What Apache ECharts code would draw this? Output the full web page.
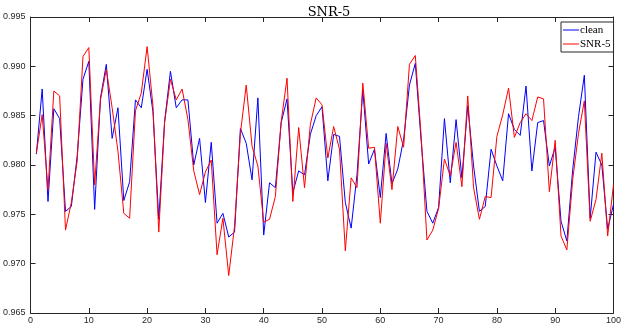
<!DOCTYPE html>
<html>
<head>
<meta charset="utf-8">
<script src="https://cdn.jsdelivr.net/npm/echarts@6/dist/echarts.min.js"></script>
<style>
  html, body { margin: 0; padding: 0; background: #fff; }
  #chart { width: 624px; height: 326px; }
</style>
</head>
<body>
<div id="chart"></div>
<script>
// values, sample 1..100
var clean = [
  0.9811, 0.9877, 0.9763, 0.9857, 0.9847, 0.9753, 0.9758, 0.9809, 0.9887, 0.9905,
  0.9755, 0.9868, 0.9902, 0.9827, 0.9858, 0.9764, 0.9783, 0.9866, 0.9858, 0.9897,
  0.9854, 0.9745, 0.9844, 0.9895, 0.9858, 0.9866, 0.9866, 0.9800, 0.9827, 0.9762,
  0.9823, 0.9741, 0.9751, 0.9727, 0.9732, 0.9837, 0.9822, 0.9785, 0.9868, 0.9729,
  0.9782, 0.9777, 0.9843, 0.9867, 0.9772, 0.9794, 0.9790, 0.9831, 0.9850, 0.9859,
  0.9784, 0.9831, 0.9829, 0.9762, 0.9736, 0.9790, 0.9876, 0.9801, 0.9816, 0.9767,
  0.9832, 0.9781, 0.9796, 0.9826, 0.9881, 0.9903, 0.9825, 0.9753, 0.9741, 0.9757,
  0.9847, 0.9782, 0.9846, 0.9787, 0.9860, 0.9799, 0.9753, 0.9758, 0.9816, 0.9799,
  0.9784, 0.9852, 0.9836, 0.9830, 0.9880, 0.9794, 0.9843, 0.9845, 0.9799, 0.9818,
  0.9743, 0.9723, 0.9795, 0.9849, 0.9891, 0.9746, 0.9813, 0.9800, 0.9735, 0.9760
];
var snr5 = [
  0.9812, 0.9851, 0.9775, 0.9875, 0.9870, 0.9734, 0.9762, 0.9804, 0.9910, 0.9919,
  0.9780, 0.9866, 0.9897, 0.9858, 0.9814, 0.9751, 0.9746, 0.9855, 0.9873, 0.9920,
  0.9860, 0.9732, 0.9843, 0.9887, 0.9866, 0.9877, 0.9846, 0.9794, 0.9770, 0.9793,
  0.9805, 0.9709, 0.9746, 0.9688, 0.9738, 0.9832, 0.9881, 0.9819, 0.9799, 0.9742,
  0.9745, 0.9768, 0.9844, 0.9888, 0.9763, 0.9838, 0.9777, 0.9841, 0.9868, 0.9861,
  0.9807, 0.9839, 0.9816, 0.9713, 0.9787, 0.9777, 0.9883, 0.9817, 0.9818, 0.9741,
  0.9822, 0.9775, 0.9839, 0.9818, 0.9902, 0.9911, 0.9830, 0.9724, 0.9734, 0.9756,
  0.9806, 0.9789, 0.9823, 0.9778, 0.9870, 0.9777, 0.9745, 0.9768, 0.9767, 0.9829,
  0.9851, 0.9878, 0.9828, 0.9843, 0.9852, 0.9845, 0.9869, 0.9867, 0.9773, 0.9825,
  0.9728, 0.9714, 0.9785, 0.9832, 0.9865, 0.9743, 0.9765, 0.9812, 0.9728, 0.9780
];
var seriesNames = ['clean', 'SNR-5'];
var chartTitle = 'SNR-5';

function pairs(vals) {
  var out = [];
  for (var i = 0; i < vals.length; i++) {
    out.push([i + 1, vals[i]]);
  }
  return out;
}

var axisColor = '#262626';
var tickFont = { color: axisColor, fontSize: 9, fontFamily: 'Liberation Sans, Arial, sans-serif' };

var frameX = function (pos, showLabel) {
  return {
    type: 'value', position: pos, min: 0, max: 100, interval: 10,
    axisLine: { show: true, onZero: false, lineStyle: { color: axisColor, width: 1 } },
    axisTick: { show: true, inside: true, length: 5, lineStyle: { color: axisColor } },
    axisLabel: showLabel ? Object.assign({ margin: 3 }, tickFont) : { show: false },
    splitLine: { show: false }
  };
};
var frameY = function (pos, showLabel) {
  return {
    type: 'value', position: pos, min: 0.965, max: 0.995, interval: 0.005,
    axisLine: { show: true, onZero: false, lineStyle: { color: axisColor, width: 1 } },
    axisTick: { show: true, inside: true, length: 5, lineStyle: { color: axisColor } },
    axisLabel: showLabel ? Object.assign({
      margin: 5,
      formatter: function (v) { return v.toFixed(3); }
    }, tickFont) : { show: false },
    splitLine: { show: false }
  };
};

var option = {
  animation: false,
  backgroundColor: '#fff',
  title: {
    text: chartTitle,
    left: 324,
    top: 1,
    textAlign: 'center',
    textStyle: { fontFamily: 'DejaVu Serif, serif', fontSize: 13, fontWeight: 'normal', color: '#000' }
  },
  legend: {
    orient: 'vertical',
    left: 561,
    top: 22,
    padding: [2, 3, 2, 2],
    itemGap: 2,
    itemWidth: 16,
    itemHeight: 1,
    icon: 'rect',
    backgroundColor: '#fff',
    borderColor: axisColor,
    borderWidth: 1,
    borderRadius: 0,
    data: seriesNames,
    textStyle: { fontFamily: 'Liberation Serif, Times New Roman, serif', fontSize: 11, color: '#000', padding: [0, 0, 0, -4], lineHeight: 12 }
  },
  grid: { left: 30, right: 7, top: 17, bottom: 13, containLabel: false },
  xAxis: [frameX('bottom', true), frameX('top', false)],
  yAxis: [frameY('left', true), frameY('right', false)],
  series: [
    {
      name: seriesNames[0], type: 'line', data: pairs(clean),
      showSymbol: false, symbol: 'none',
      lineStyle: { color: '#0000ff', width: 1 }, itemStyle: { color: '#0000ff' }
    },
    {
      name: seriesNames[1], type: 'line', data: pairs(snr5),
      showSymbol: false, symbol: 'none',
      lineStyle: { color: '#ff0000', width: 1 }, itemStyle: { color: '#ff0000' }
    }
  ]
};

var chart = echarts.init(document.getElementById('chart'), null, { renderer: 'canvas' });
chart.setOption(option);
</script>
</body>
</html>
